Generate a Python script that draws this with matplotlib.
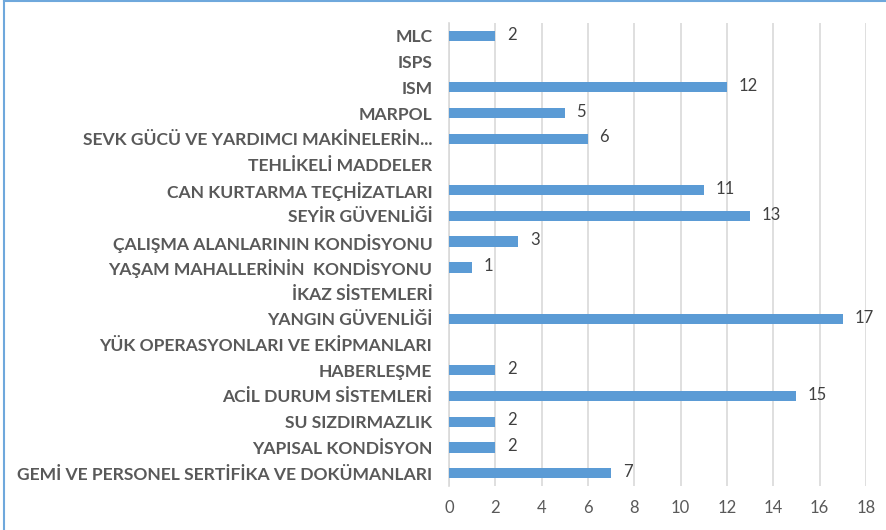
import numpy as np
import matplotlib.pyplot as plt
from matplotlib.lines import Line2D

plt.rcParams['font.family'] = ['Lato', 'DejaVu Sans']

# categories from bottom to top
categories = [
    'GEMİ VE PERSONEL SERTİFİKA VE DOKÜMANLARI',
    'YAPISAL KONDİSYON',
    'SU SIZDIRMAZLIK',
    'ACİL DURUM SİSTEMLERİ',
    'HABERLEŞME',
    'YÜK OPERASYONLARI VE EKİPMANLARI',
    'YANGIN GÜVENLİĞİ',
    'İKAZ SİSTEMLERİ',
    'YAŞAM MAHALLERİNİN  KONDİSYONU',
    'ÇALIŞMA ALANLARININ KONDİSYONU',
    'SEYİR GÜVENLİĞİ',
    'CAN KURTARMA TEÇHİZATLARI',
    'TEHLİKELİ MADDELER',
    'SEVK GÜCÜ VE YARDIMCI MAKİNELERİN...',
    'MARPOL',
    'ISM',
    'ISPS',
    'MLC',
]
counts = [7, 2, 2, 15, 2, None, 17, None, 1, 3, 13, 11, None, 6, 5, 12, None, 2]
x_ticks = [0, 2, 4, 6, 8, 10, 12, 14, 16, 18]

bar_color = '#5B9BD5'

fig = plt.figure(figsize=(8.87, 5.30), dpi=100)
ax = fig.add_axes([449 / 887, 1 - 486 / 530, (866 - 449) / 887, (486 - 23) / 530])

y = np.arange(len(categories))
vals = [np.nan if v is None else v for v in counts]
ax.barh(y, vals, height=0.4, color=bar_color, zorder=3)

for yi, v in zip(y, counts):
    if v is not None:
        ax.text(v + 0.5, yi + 0.05, str(v), va='center', ha='left', fontsize=12, color='#404040')

ax.set_xlim(0, 18)
ax.set_ylim(-0.5, len(categories) - 0.5)
ax.set_xticks(x_ticks)
ax.set_xticklabels([str(t) for t in x_ticks], fontsize=12, color='#595959')
ax.set_yticks(y)
ax.set_yticklabels(categories, fontsize=12.6, fontweight='bold', color='#595959')
ax.tick_params(axis='y', length=0, pad=12)
ax.tick_params(axis='x', length=0, pad=10)

ax.xaxis.grid(True, color='#D9D9D9', linewidth=1.2, zorder=0)
for s in ['top', 'right', 'bottom']:
    ax.spines[s].set_visible(False)
ax.spines['left'].set_color('#D9D9D9')
ax.spines['left'].set_linewidth(1.2)

# light blue frame (only top and left edges visible in the crop)
W, H = 887, 530
fig.lines.append(Line2D([4.5 / W, 4.5 / W], [0, 1], transform=fig.transFigure,
                        color='#6FA8DC', linewidth=1.5))
fig.lines.append(Line2D([4.5 / W, 1], [1 - 1 / H, 1 - 1 / H], transform=fig.transFigure,
                        color='#6FA8DC', linewidth=1.5))

fig.savefig('out.png', dpi=100)
